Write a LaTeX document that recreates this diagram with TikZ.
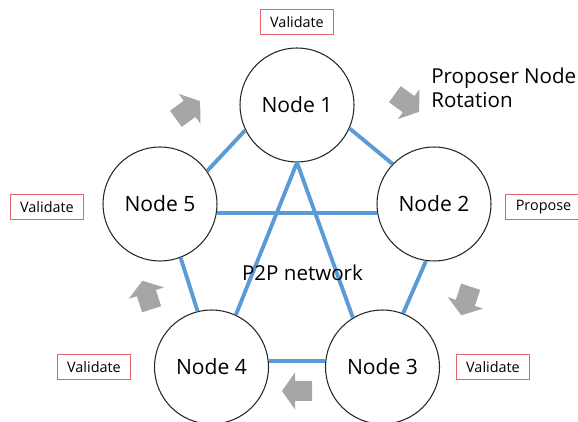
\documentclass[tikz,border=0pt]{standalone}
\usepackage{fontspec}
\setmainfont{Open Sans}
\definecolor{linkblue}{RGB}{91,155,213}
\definecolor{tagred}{RGB}{226,100,100}
\definecolor{spingray}{RGB}{166,166,166}
\tikzset{
  peer/.style={circle,draw=black!85,line width=0.6pt,minimum size=2.28cm,inner sep=0pt,font=\fontsize{12}{14}\selectfont},
  link/.style={linkblue,line width=2.2pt},
  tag/.style={draw=tagred,line width=0.6pt,minimum width=1.46cm,minimum height=0.5cm,inner sep=0pt,font=\fontsize{8.2}{10}\selectfont},
  spin/.pic={\fill[spingray] (-0.3,-0.2) -- (0.04,-0.2) -- (0.04,-0.37) -- (0.3,0) -- (0.04,0.37) -- (0.04,0.2) -- (-0.3,0.2) -- cycle;}
}
\begin{document}
\begin{tikzpicture}
\useasboundingbox (0,0) rectangle (11.56,8.44);
% peers
\node[peer] (n1) at (5.94,6.34) {Node 1};
\node[peer] (n2) at (8.68,4.36) {Node 2};
\node[peer] (n3) at (7.65,1.10) {Node 3};
\node[peer] (n4) at (4.23,1.10) {Node 4};
\node[peer] (n5) at (3.20,4.36) {Node 5};
% links
\draw[link] (n1.206) -- (n5.35);
\draw[link] (n1.-24) -- (n2.136);
\draw[link] (n5.-9) -- (n2.189);
\draw[link] (n1.-90) -- (n4.65);
\draw[link] (n1.-90) -- (n3.121);
\draw[link] (n5.-69) -- (n4.104);
\draw[link] (n2.-98) -- (n3.69);
\draw[link] (n4.6) -- (n3.174);
\node[font=\fontsize{11.7}{14}\selectfont] (net) at (6.05,2.98) {P2P network};
% roles
\node[tag] (t1) at (5.94,8.00) {Validate};
\node[tag,minimum width=1.52cm] (t2) at (10.87,4.30) {Propose};
\node[tag] (t3) at (9.86,1.10) {Validate};
\node[tag] (t4) at (1.88,1.10) {Validate};
\node[tag] (t5) at (0.94,4.30) {Validate};
% rotation
\node[anchor=west,align=left,inner sep=0pt,font=\fontsize{11.7}{13.6}\selectfont] (rot) at (8.62,6.68) {Proposer Node\\Rotation};
\pic[rotate=36] at (3.76,6.24) {spin};
\pic[rotate=-36] at (8.14,6.38) {spin};
\pic[rotate=-108] at (9.32,2.42) {spin};
\pic[rotate=180] at (5.94,0.62) {spin};
\pic[rotate=108] at (2.94,2.54) {spin};
\end{tikzpicture}
\end{document}
